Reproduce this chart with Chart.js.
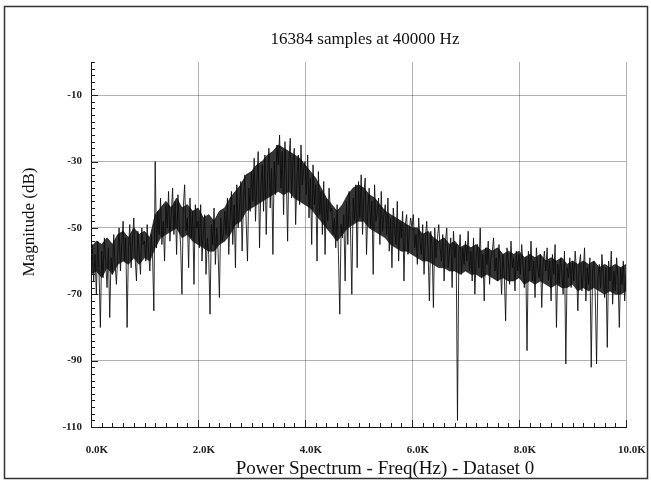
<!DOCTYPE html>
<html>
<head>
<meta charset="utf-8">
<title>Power Spectrum</title>
<script src="https://cdn.jsdelivr.net/npm/chart.js@4.4.1/dist/chart.umd.min.js"></script>
<style>
  html, body { margin: 0; padding: 0; background: #fff; }
  #wrap { width: 651px; height: 480px; position: relative; }
</style>
</head>
<body>
<div id="wrap"><canvas id="spectrum"></canvas></div>
<script>
// spacing (Hz) of the points
const binHz = 25;

// magnitude (dB), one row per 500 Hz
const magnitudeDb = [
  -62,-55,-66,-58,-70,-54,-63,-80,-57,-65,-53,-60,-68,-56,-77,-59,-64,-52,-61,-67,
  -58,-50,-63,-55,-48,-60,-53,-80,-56,-49,-62,-54,-47,-59,-66,-51,-57,-64,-50,-55,
  -54,-60,-49,-57,-63,-52,-58,-75,-30,-56,-45,-52,-41,-55,-48,-60,-43,-50,-39,-54,
  -46,-38,-52,-42,-58,-40,-49,-55,-70,-44,-37,-51,-47,-62,-41,-53,-45,-67,-43,-50,
  -48,-56,-43,-60,-51,-46,-64,-53,-58,-76,-49,-55,-44,-61,-50,-57,-71,-47,-54,-52,
  -45,-52,-41,-58,-47,-39,-55,-43,-62,-37,-50,-44,-36,-57,-42,-34,-48,-60,-38,-45,
  -33,-42,-29,-48,-36,-27,-56,-38,-31,-45,-28,-52,-35,-26,-44,-32,-58,-30,-40,-25,
  -31,-22,-38,-27,-46,-24,-34,-54,-29,-23,-41,-30,-26,-49,-35,-28,-43,-25,-37,-32,
  -30,-40,-28,-47,-35,-55,-31,-43,-37,-60,-33,-46,-39,-52,-36,-58,-41,-48,-38,-45,
  -44,-52,-47,-56,-43,-58,-76,-49,-53,-46,-66,-42,-55,-39,-50,-70,-41,-48,-37,-62,
  -36,-47,-34,-52,-40,-35,-58,-44,-38,-50,-42,-64,-37,-48,-45,-41,-55,-39,-51,-46,
  -43,-52,-41,-57,-47,-62,-44,-50,-55,-42,-60,-48,-53,-45,-66,-49,-46,-58,-51,-47,
  -50,-46,-56,-52,-61,-47,-54,-58,-49,-64,-53,-48,-57,-72,-51,-55,-74,-50,-59,-53,
  -49,-56,-60,-52,-66,-54,-50,-62,-57,-53,-68,-51,-59,-55,-108,-58,-52,-64,-56,-61,
  -54,-60,-51,-63,-57,-66,-53,-70,-59,-55,-62,-50,-65,-58,-72,-56,-61,-54,-67,-59,
  -57,-53,-63,-59,-66,-55,-61,-70,-58,-64,-78,-56,-60,-67,-54,-62,-59,-69,-57,-63,
  -58,-64,-55,-61,-68,-59,-87,-57,-63,-54,-66,-60,-71,-56,-62,-65,-58,-74,-61,-57,
  -63,-56,-66,-60,-72,-58,-64,-55,-80,-61,-67,-59,-63,-70,-57,-91,-62,-65,-59,-68,
  -60,-66,-57,-63,-75,-61,-58,-69,-64,-56,-72,-62,-67,-59,-92,-63,-60,-70,-91,-65,
  -61,-68,-58,-64,-71,-62,-86,-60,-66,-57,-73,-63,-69,-59,-65,-80,-62,-67,-60,-72,-64
];

// dense dark core of the trace, read every 100 Hz (0.0K .. 10.0K), one row per 2 kHz
const coreStepHz = 100;
const coreTopDb = [
  -56,-54,-55,-53,-55,-52,-51,-53,-50,-52,-51,-53,-46,-44,-42,-44,-41,-44,-43,-45,
  -44,-47,-46,-48,-45,-44,-41,-39,-37,-34,-33,-31,-30,-28,-27,-25,-26,-27,-28,-29,
  -31,-33,-35,-38,-41,-43,-45,-43,-40,-38,-37,-38,-40,-41,-43,-45,-46,-47,-48,-49,
  -50,-50,-52,-51,-53,-54,-53,-55,-54,-56,-55,-56,-55,-57,-56,-57,-56,-58,-57,-58,
  -57,-59,-58,-59,-58,-60,-59,-60,-59,-61,-60,-61,-60,-61,-60,-62,-61,-62,-61,-62,
  -61
];
const coreBottomDb = [
  -64,-63,-65,-62,-64,-61,-60,-61,-59,-61,-59,-60,-56,-53,-52,-51,-50,-53,-52,-54,
  -55,-56,-57,-57,-55,-54,-52,-49,-48,-45,-44,-43,-42,-41,-40,-39,-40,-39,-41,-42,
  -43,-44,-46,-48,-50,-52,-54,-52,-50,-49,-48,-48,-50,-51,-52,-53,-55,-56,-57,-57,
  -58,-59,-60,-60,-61,-62,-62,-63,-63,-64,-63,-64,-64,-65,-64,-65,-66,-65,-66,-66,
  -65,-67,-66,-67,-66,-67,-68,-67,-68,-68,-67,-69,-68,-69,-68,-69,-70,-69,-70,-70,
  -69
];

const xTickHz = [0, 2000, 4000, 6000, 8000, 10000];
const yTickDb = [-110, -90, -70, -50, -30, -10];

const chartTitle = '16384 samples at 40000 Hz';
const xTitle = 'Power Spectrum - Freq(Hz) - Dataset 0';
const yTitle = 'Magnitude (dB)';

const serif = '"Liberation Serif", "Times New Roman", serif';

// titles, inward minor ticks and the outer frame
const decorations = {
  id: 'decorations',
  afterDraw(chart) {
    const { ctx, scales: { x, y } } = chart;
    ctx.save();
    ctx.strokeStyle = '#222';
    ctx.lineWidth = 1;
    ctx.beginPath();
    for (let f = 0; f <= 10000; f += 200) {
      const px = Math.round(x.getPixelForValue(f)) + 0.5;
      const len = f % 2000 === 0 ? 7 : 4;
      ctx.moveTo(px, y.bottom);
      ctx.lineTo(px, y.bottom - len);
    }
    for (let v = -110; v <= 0; v += 2) {
      const py = Math.round(y.getPixelForValue(v)) + 0.5;
      const len = (v + 110) % 20 === 0 ? 7 : 4;
      ctx.moveTo(x.left, py);
      ctx.lineTo(x.left + len, py);
    }
    ctx.stroke();

    ctx.fillStyle = '#111';
    ctx.textAlign = 'center';
    ctx.textBaseline = 'middle';
    ctx.font = '17px ' + serif;
    ctx.fillText(chartTitle, 365, 40);
    ctx.font = '19px ' + serif;
    ctx.fillText(xTitle, 385, 469);
    ctx.translate(30, 222);
    ctx.rotate(-Math.PI / 2);
    ctx.font = '17px ' + serif;
    ctx.fillText(yTitle, 0, 0);
    ctx.restore();

    ctx.save();
    ctx.strokeStyle = '#333';
    ctx.lineWidth = 1.5;
    ctx.strokeRect(4.5, 6.5, 643, 472);
    ctx.restore();
  }
};

new Chart(document.getElementById('spectrum'), {
  type: 'line',
  data: {
    datasets: [{
      label: 'core top',
      data: coreTopDb.map((v, i) => ({ x: i * coreStepHz, y: v })),
      borderWidth: 1,
      borderColor: 'rgba(20,20,20,0.8)',
      backgroundColor: 'rgba(8,8,8,0.82)',
      pointRadius: 0,
      fill: '+1',
      order: 2
    }, {
      label: 'core bottom',
      data: coreBottomDb.map((v, i) => ({ x: i * coreStepHz, y: v })),
      borderWidth: 1,
      borderColor: 'rgba(40,40,40,0.6)',
      pointRadius: 0,
      fill: false,
      order: 2
    }, {
      label: 'Dataset 0',
      data: magnitudeDb.map((v, i) => ({ x: i * binHz, y: v })),
      borderColor: 'rgba(10,10,10,0.85)',
      borderWidth: 1,
      pointRadius: 0,
      tension: 0,
      fill: false,
      order: 1
    }]
  },
  options: {
    responsive: true,
    maintainAspectRatio: false,
    animation: false,
    layout: { padding: { top: 62, right: 25, left: 0, bottom: 0 } },
    plugins: {
      legend: { display: false },
      tooltip: { enabled: false }
    },
    scales: {
      x: {
        type: 'linear',
        min: 0,
        max: 10000,
        afterFit: s => { s.height = 53; s.paddingLeft = 0; s.paddingRight = 0; },
        afterBuildTicks: s => { s.ticks = xTickHz.map(v => ({ value: v })); },
        grid: { color: 'rgba(0,0,0,0.3)', lineWidth: 1, drawTicks: false },
        border: { display: true, color: '#111', width: 1 },
        ticks: {
          padding: 17,
          labelOffset: 6,
          maxRotation: 0,
          color: '#222',
          font: { family: serif, size: 11, weight: 'bold' },
          callback: v => (v / 1000).toFixed(1) + 'K'
        }
      },
      y: {
        type: 'linear',
        min: -110,
        max: 0,
        afterFit: s => { s.width = 91; },
        afterBuildTicks: s => { s.ticks = yTickDb.map(v => ({ value: v })); },
        grid: { color: 'rgba(0,0,0,0.3)', lineWidth: 1, drawTicks: false },
        border: { display: true, color: '#111', width: 1 },
        ticks: {
          padding: 9,
          color: '#222',
          font: { family: serif, size: 11, weight: 'bold' }
        }
      }
    }
  },
  plugins: [decorations]
});
</script>
</body>
</html>
